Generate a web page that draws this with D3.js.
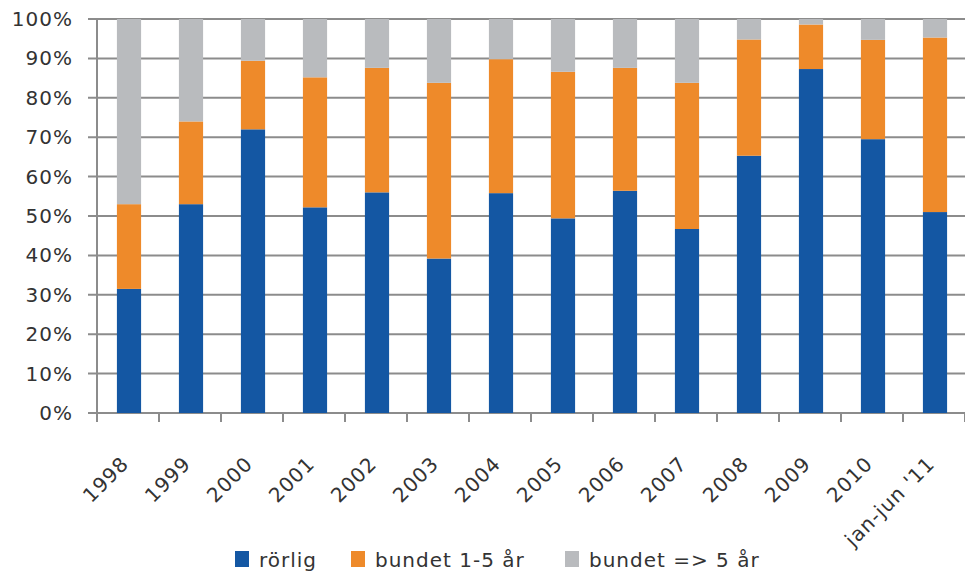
<!DOCTYPE html>
<html>
<head>
<meta charset="utf-8">
<script src="https://cdn.jsdelivr.net/npm/d3@7"></script>
<style>
  body { margin: 0; background: #fff; }
  text { font-family: "DejaVu Sans", sans-serif; fill: #333; }
</style>
</head>
<body>
<div id="chart"></div>
<script>
// data (share of new loans, %)
let categories = ["1998", "1999", "2000", "2001", "2002", "2003", "2004", "2005",
                  "2006", "2007", "2008", "2009", "2010", "jan-jun '11"];
let rorlig    = [31.5, 53, 72, 52.2, 56, 39.2, 55.8, 49.4, 56.4, 46.7, 65.3, 87.3, 69.5, 51];
let bundet15  = [21.5, 21, 17.4, 33, 31.6, 44.6, 34, 37.2, 31.2, 37.1, 29.5, 11.3, 25.2, 44.3];
let bundet5   = [47, 26, 10.6, 14.8, 12.4, 16.2, 10.2, 13.4, 12.4, 16.2, 5.2, 1.4, 5.3, 4.7];
let seriesNames = ["rörlig", "bundet 1-5 år", "bundet => 5 år"];
let yTicks = [0, 10, 20, 30, 40, 50, 60, 70, 80, 90, 100];

let width = 965, height = 571;
let margin = { left: 97, right: 0, top: 19, bottom: 158 };
let colors = ["#1457a3", "#ee8a2a", "#b9bbbe"];

let svg = d3.select("#chart").append("svg")
    .attr("width", width)
    .attr("height", height);

let x = d3.scaleBand()
    .domain(categories)
    .range([margin.left, width - margin.right])
    .paddingInner(0.61)
    .paddingOuter(0.305);

let y = d3.scaleLinear()
    .domain([0, 100])
    .range([height - margin.bottom, margin.top]);

// gridlines
svg.selectAll(".grid")
    .data(yTicks)
    .enter().append("line")
    .attr("class", "grid")
    .attr("x1", margin.left - 9)
    .attr("x2", width)
    .attr("y1", d => y(d))
    .attr("y2", d => y(d))
    .attr("stroke", "#8c8c8c")
    .attr("stroke-width", 2);

// y axis line
svg.append("line")
    .attr("x1", margin.left).attr("x2", margin.left)
    .attr("y1", y(100)).attr("y2", y(0) + 9)
    .attr("stroke", "#8c8c8c")
    .attr("stroke-width", 2);

// y labels
svg.selectAll(".ylabel")
    .data(yTicks)
    .enter().append("text")
    .attr("class", "ylabel")
    .attr("x", 73)
    .attr("y", d => y(d) + 7)
    .attr("text-anchor", "end")
    .style("font-size", "20px")
    .style("letter-spacing", "1px")
    .text(d => d + "%");

// x ticks at category boundaries
let boundaries = d3.range(categories.length + 1).map(i => margin.left + i * (width - margin.left) / categories.length);
svg.selectAll(".xtick")
    .data(boundaries)
    .enter().append("line")
    .attr("class", "xtick")
    .attr("x1", d => d).attr("x2", d => d)
    .attr("y1", y(0)).attr("y2", y(0) + 9)
    .attr("stroke", "#8c8c8c")
    .attr("stroke-width", 2);

// stacked bars
let table = categories.map((c, i) => ({ cat: c, s0: rorlig[i], s1: bundet15[i], s2: bundet5[i] }));
let stack = d3.stack().keys(["s0", "s1", "s2"]);
let stacked = stack(table);

svg.selectAll(".layer")
    .data(stacked)
    .enter().append("g")
    .attr("class", "layer")
    .attr("fill", (_, i) => colors[i])
    .selectAll("rect")
    .data(d => d)
    .enter().append("rect")
    .attr("x", d => x(d.data.cat) + 1)
    .attr("width", x.bandwidth())
    .attr("y", d => y(Math.min(d[1], 100)))
    .attr("height", d => y(d[0]) - y(Math.min(d[1], 100)));

// x labels, rotated
svg.selectAll(".xlabel")
    .data(categories)
    .enter().append("text")
    .attr("class", "xlabel")
    .attr("text-anchor", "end")
    .attr("transform", d => "translate(" + (x(d) + x.bandwidth() / 2 + 2) + "," + (y(0) + 52) + ") rotate(-45)")
    .style("font-size", "20px")
    .style("letter-spacing", "1px")
    .text(d => d);

// legend
let legendX = [235, 351, 565];
let legend = svg.selectAll(".legend")
    .data(seriesNames)
    .enter().append("g")
    .attr("class", "legend")
    .attr("transform", (_, i) => "translate(" + legendX[i] + ",551)");

legend.append("rect")
    .attr("width", 14)
    .attr("height", 16)
    .attr("fill", (_, i) => colors[i]);

legend.append("text")
    .attr("x", 24)
    .attr("y", 16)
    .style("font-size", "20px")
    .style("letter-spacing", "1px")
    .text(d => d);
</script>
</body>
</html>
